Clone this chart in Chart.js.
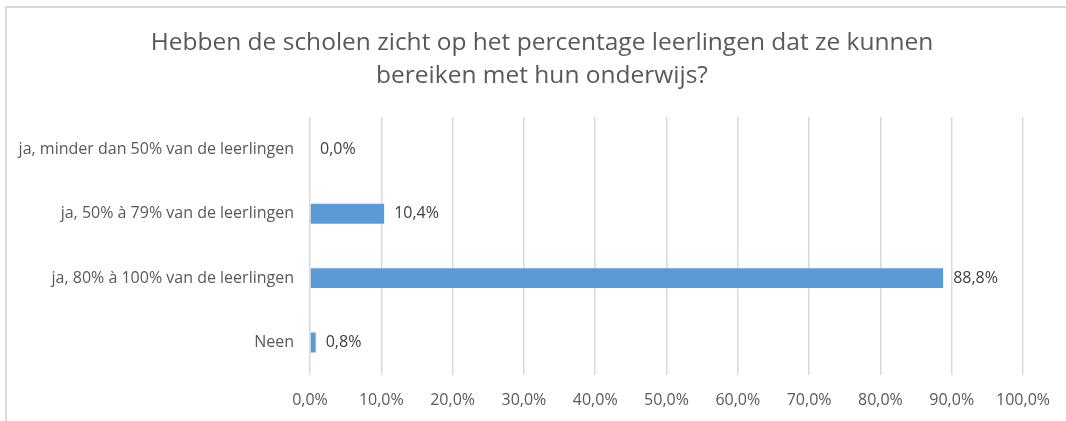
<!DOCTYPE html>
<html lang="nl">
<head>
    <meta charset="UTF-8">
    <title>Zicht op percentage leerlingen</title>
    <script src="https://cdn.jsdelivr.net/npm/chart.js"></script>
    <style>
        body {
            margin: 0;
            background: #ffffff;
            overflow: hidden;
        }
        .frame {
            position: absolute;
            left: 5px;
            top: 6px;
            width: 1100px;
            height: 460px;
            border: 1px solid #d9d9d9;
            border-width: 2px 0 0 2px;
        }
        .wrap {
            position: absolute;
            left: 0;
            top: 0;
            width: 1066px;
            height: 421px;
        }
    </style>
</head>
<body>
    <div class="frame"></div>
    <div class="wrap"><canvas id="barChart"></canvas></div>

    <script>
        const titleLines = [
            "Hebben de scholen zicht op het percentage leerlingen dat ze kunnen",
            "bereiken met hun onderwijs?"
        ];
        const categories = [
            "ja, minder dan 50% van de leerlingen",
            "ja, 50% à 79% van de leerlingen",
            "ja, 80% à 100% van de leerlingen",
            "Neen"
        ];
        const percentages = [0.0, 10.4, 88.8, 0.8];
        const axisMin = 0;
        const axisMax = 100;
        const axisStep = 10;

        const fontFamily = "'Open Sans', 'Noto Sans', sans-serif";
        const fmt = v => v.toFixed(1).replace(".", ",") + "%";

        // value labels to the right of each bar
        const valueLabels = {
            id: 'valueLabels',
            afterDatasetsDraw(chart) {
                const ctx = chart.ctx;
                const meta = chart.getDatasetMeta(0);
                ctx.save();
                ctx.font = "16px " + fontFamily;
                ctx.fillStyle = "#404040";
                ctx.textAlign = "left";
                ctx.textBaseline = "middle";
                meta.data.forEach((bar, i) => {
                    ctx.fillText(fmt(percentages[i]), bar.x + 10, bar.y);
                });
                ctx.restore();
            }
        };

        // title centred over the whole chart box, not just the padded area
        const centredTitle = {
            id: 'centredTitle',
            afterDraw(chart) {
                const ctx = chart.ctx;
                ctx.save();
                ctx.font = "24.5px " + fontFamily;
                ctx.fillStyle = "#595959";
                ctx.textAlign = "center";
                ctx.textBaseline = "middle";
                titleLines.forEach((line, i) => {
                    ctx.fillText(line, 542, 43 + i * 33);
                });
                ctx.restore();
            }
        };

        const ctx = document.getElementById('barChart').getContext('2d');
        new Chart(ctx, {
            type: 'bar',
            data: {
                labels: categories,
                datasets: [{
                    data: percentages,
                    backgroundColor: "#5b9bd5",
                    borderWidth: 0,
                    barPercentage: 0.62,
                    categoryPercentage: 0.5
                }]
            },
            options: {
                indexAxis: 'y',
                responsive: true,
                maintainAspectRatio: false,
                animation: false,
                layout: { padding: { left: 0, right: 35, top: 117, bottom: -5 } },
                plugins: {
                    legend: { display: false },
                    tooltip: { enabled: false },
                    title: { display: false }
                },
                scales: {
                    x: {
                        min: axisMin,
                        max: axisMax,
                        ticks: {
                            stepSize: axisStep,
                            color: "#595959",
                            font: { family: fontFamily, size: 16 },
                            padding: 16,
                            callback: v => fmt(v)
                        },
                        grid: { color: "#d9d9d9", lineWidth: 1.5, drawTicks: false },
                        border: { display: false }
                    },
                    y: {
                        ticks: {
                            color: "#595959",
                            font: { family: fontFamily, size: 16 },
                            padding: 16
                        },
                        grid: { display: false, drawTicks: false },
                        border: { display: false },
                        afterFit(scale) { scale.width = 310; }
                    }
                }
            },
            plugins: [valueLabels, centredTitle]
        });
    </script>
</body>
</html>
